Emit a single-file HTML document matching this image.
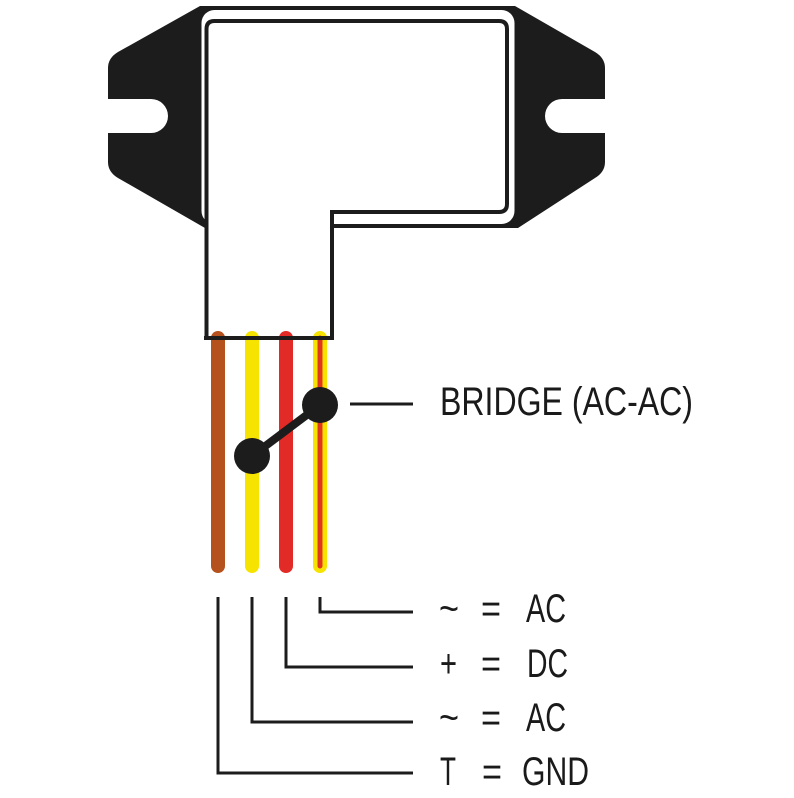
<!DOCTYPE html>
<html><head><meta charset="utf-8"><style>
html,body{margin:0;padding:0;background:#fff;}
svg{display:block;}
text{font-family:"Liberation Sans",sans-serif;fill:#1a1a1a;}
</style></head><body>
<svg width="794" height="798" viewBox="0 0 794 798" xmlns="http://www.w3.org/2000/svg">
<path d="M200,6 L515,6 L595,52 Q605,58 605,68 L605,99 L562,99 A17,17 0 0 0 562,133 L605,133 L605,162 Q605,172 595,178 L518,228 L205,228 L118,178 Q108,172 108,162 L108,133 L151,133 A17,17 0 0 0 151,99 L108,99 L108,68 Q108,58 118,52 Z" fill="#1c1c1c"/>
<rect x="201.5" y="10" width="313" height="214" rx="13" fill="#fff"/>
<path d="M206.5,338 L206.5,29 Q206.5,21 214.5,21 L499,21 Q507,21 507,29 L507,204 Q507,212 499,212 L332,212 L332,338 Z" fill="#fff" stroke="#1c1c1c" stroke-width="4"/>
<g stroke-linecap="round" stroke-width="14">
<line x1="218" y1="338" x2="218" y2="566" stroke="#b5511d"/>
<line x1="252" y1="338" x2="252" y2="566" stroke="#f7e300"/>
<line x1="286" y1="338" x2="286" y2="566" stroke="#e22b26"/>
<line x1="320" y1="338" x2="320" y2="566" stroke="#f7e300"/>
<line x1="320" y1="338" x2="320" y2="566" stroke="#e0381e" stroke-width="5"/>
</g>
<rect x="204" y="336" width="130" height="4" fill="#1c1c1c"/>
<line x1="252" y1="456" x2="320" y2="405" stroke="#1c1c1c" stroke-width="8"/>
<circle cx="252" cy="456" r="18" fill="#1c1c1c"/>
<circle cx="320" cy="405" r="18" fill="#1c1c1c"/>
<line x1="350" y1="404" x2="413" y2="404" stroke="#1c1c1c" stroke-width="3"/>
<text x="440" y="415" font-size="40" textLength="253" lengthAdjust="spacingAndGlyphs">BRIDGE (AC-AC)</text>
<g fill="none" stroke="#1c1c1c" stroke-width="3">
<polyline points="320,597 320,612 413,612"/>
<polyline points="286,597 286,667 413,667"/>
<polyline points="252,597 252,722 413,722"/>
<polyline points="218,597 218,773 413,773"/>
</g>
<g font-size="40">
<text x="439" y="622" textLength="20" lengthAdjust="spacingAndGlyphs">~</text>
<text x="481" y="622" textLength="20" lengthAdjust="spacingAndGlyphs">=</text>
<text x="526" y="622" textLength="40" lengthAdjust="spacingAndGlyphs">AC</text>
<text x="440" y="677" textLength="17" lengthAdjust="spacingAndGlyphs">+</text>
<text x="481" y="677" textLength="20" lengthAdjust="spacingAndGlyphs">=</text>
<text x="527" y="677" textLength="41" lengthAdjust="spacingAndGlyphs">DC</text>
<text x="439" y="731" textLength="20" lengthAdjust="spacingAndGlyphs">~</text>
<text x="481" y="731" textLength="20" lengthAdjust="spacingAndGlyphs">=</text>
<text x="526" y="731" textLength="40" lengthAdjust="spacingAndGlyphs">AC</text>
<text x="440" y="785" textLength="16" lengthAdjust="spacingAndGlyphs">T</text>
<text x="482" y="785" textLength="20" lengthAdjust="spacingAndGlyphs">=</text>
<text x="522" y="785" textLength="67" lengthAdjust="spacingAndGlyphs">GND</text>
</g>
</svg>
</body></html>
